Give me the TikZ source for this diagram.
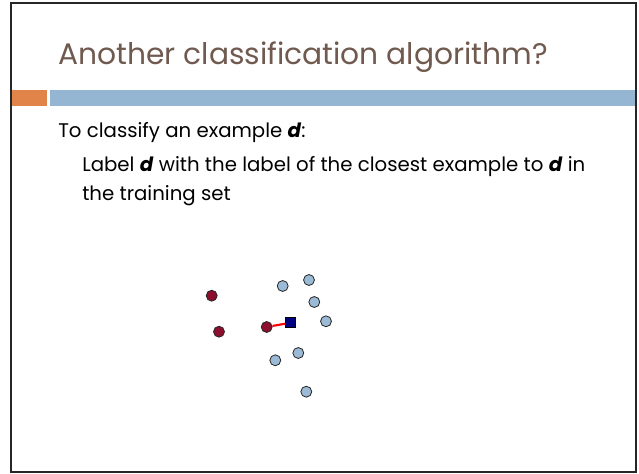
\documentclass[tikz,border=0pt]{standalone}
\usepackage{fontspec}
\setmainfont{Poppins}
\usepackage{xcolor}
\usetikzlibrary{positioning}
\definecolor{titlebrown}{HTML}{705A50}
\definecolor{barorange}{HTML}{E0844A}
\definecolor{barblue}{HTML}{94B6D2}
\definecolor{ptred}{HTML}{8E0E2E}
\definecolor{ptblue}{HTML}{9BBAD6}
\definecolor{navy}{HTML}{000080}
\tikzset{
  redpt/.style={circle, fill=ptred, draw=black!85, minimum size=8.2pt, inner sep=0pt, line width=0.6pt},
  bluept/.style={circle, fill=ptblue, draw=black!85, minimum size=8.2pt, inner sep=0pt, line width=0.6pt},
  qry/.style={rectangle, fill=navy, draw=black, minimum size=7.4pt, inner sep=0pt, line width=0.6pt},
  nn/.style={draw=red, line width=1.6pt},
  ttl/.style={anchor=base west, inner sep=0pt, text=titlebrown, font=\fontsize{22.3}{26}\selectfont},
  txt/.style={anchor=base west, inner sep=0pt, font=\fontsize{14.8}{18}\selectfont},
  slide/.style={x=0.75pt, y=-0.75pt}
}

\begin{document}
\begin{tikzpicture}[slide]
  \useasboundingbox (0,0) rectangle (639,474);
  \fill[white] (0,0) rectangle (639,474);
  % header bars
  \fill[barorange] (12,90) rectangle (47,106);
  \fill[barblue] (50,90) rectangle (636,106);
  \draw[black!85, line width=1.6pt] (11,3) rectangle (636,472);
  % texts
  \node[ttl] (title) at (58,65) {Another classification algorithm?};
  \node[txt] (line1) at (58,138) {To classify an example \textbf{\textit{d}}:};
  \node[txt] (line2) at (82,172) {Label \textbf{\textit{d}} with the label of the closest example to \textbf{\textit{d}} in};
  \node[txt] (line3) at (82,200) {the training set};
  % points
  \node[redpt] (r1) at (211.7,295.7) {};
  \node[redpt] (r2) at (219,331.7) {};
  \node[redpt] (r3) at (266.7,327) {};
  \node[bluept] (b1) at (282.7,286) {};
  \node[bluept] (b2) at (309,280) {};
  \node[bluept] (b3) at (314.3,302) {};
  \node[bluept] (b4) at (326,321.3) {};
  \node[bluept] (b5) at (298.3,353) {};
  \node[bluept] (b6) at (275.3,360.3) {};
  \node[bluept] (b7) at (306.3,391.7) {};
  \node[qry] (q) at (290.7,322.7) {};
  \draw[nn] (r3) -- (q);
\end{tikzpicture}
\end{document}
